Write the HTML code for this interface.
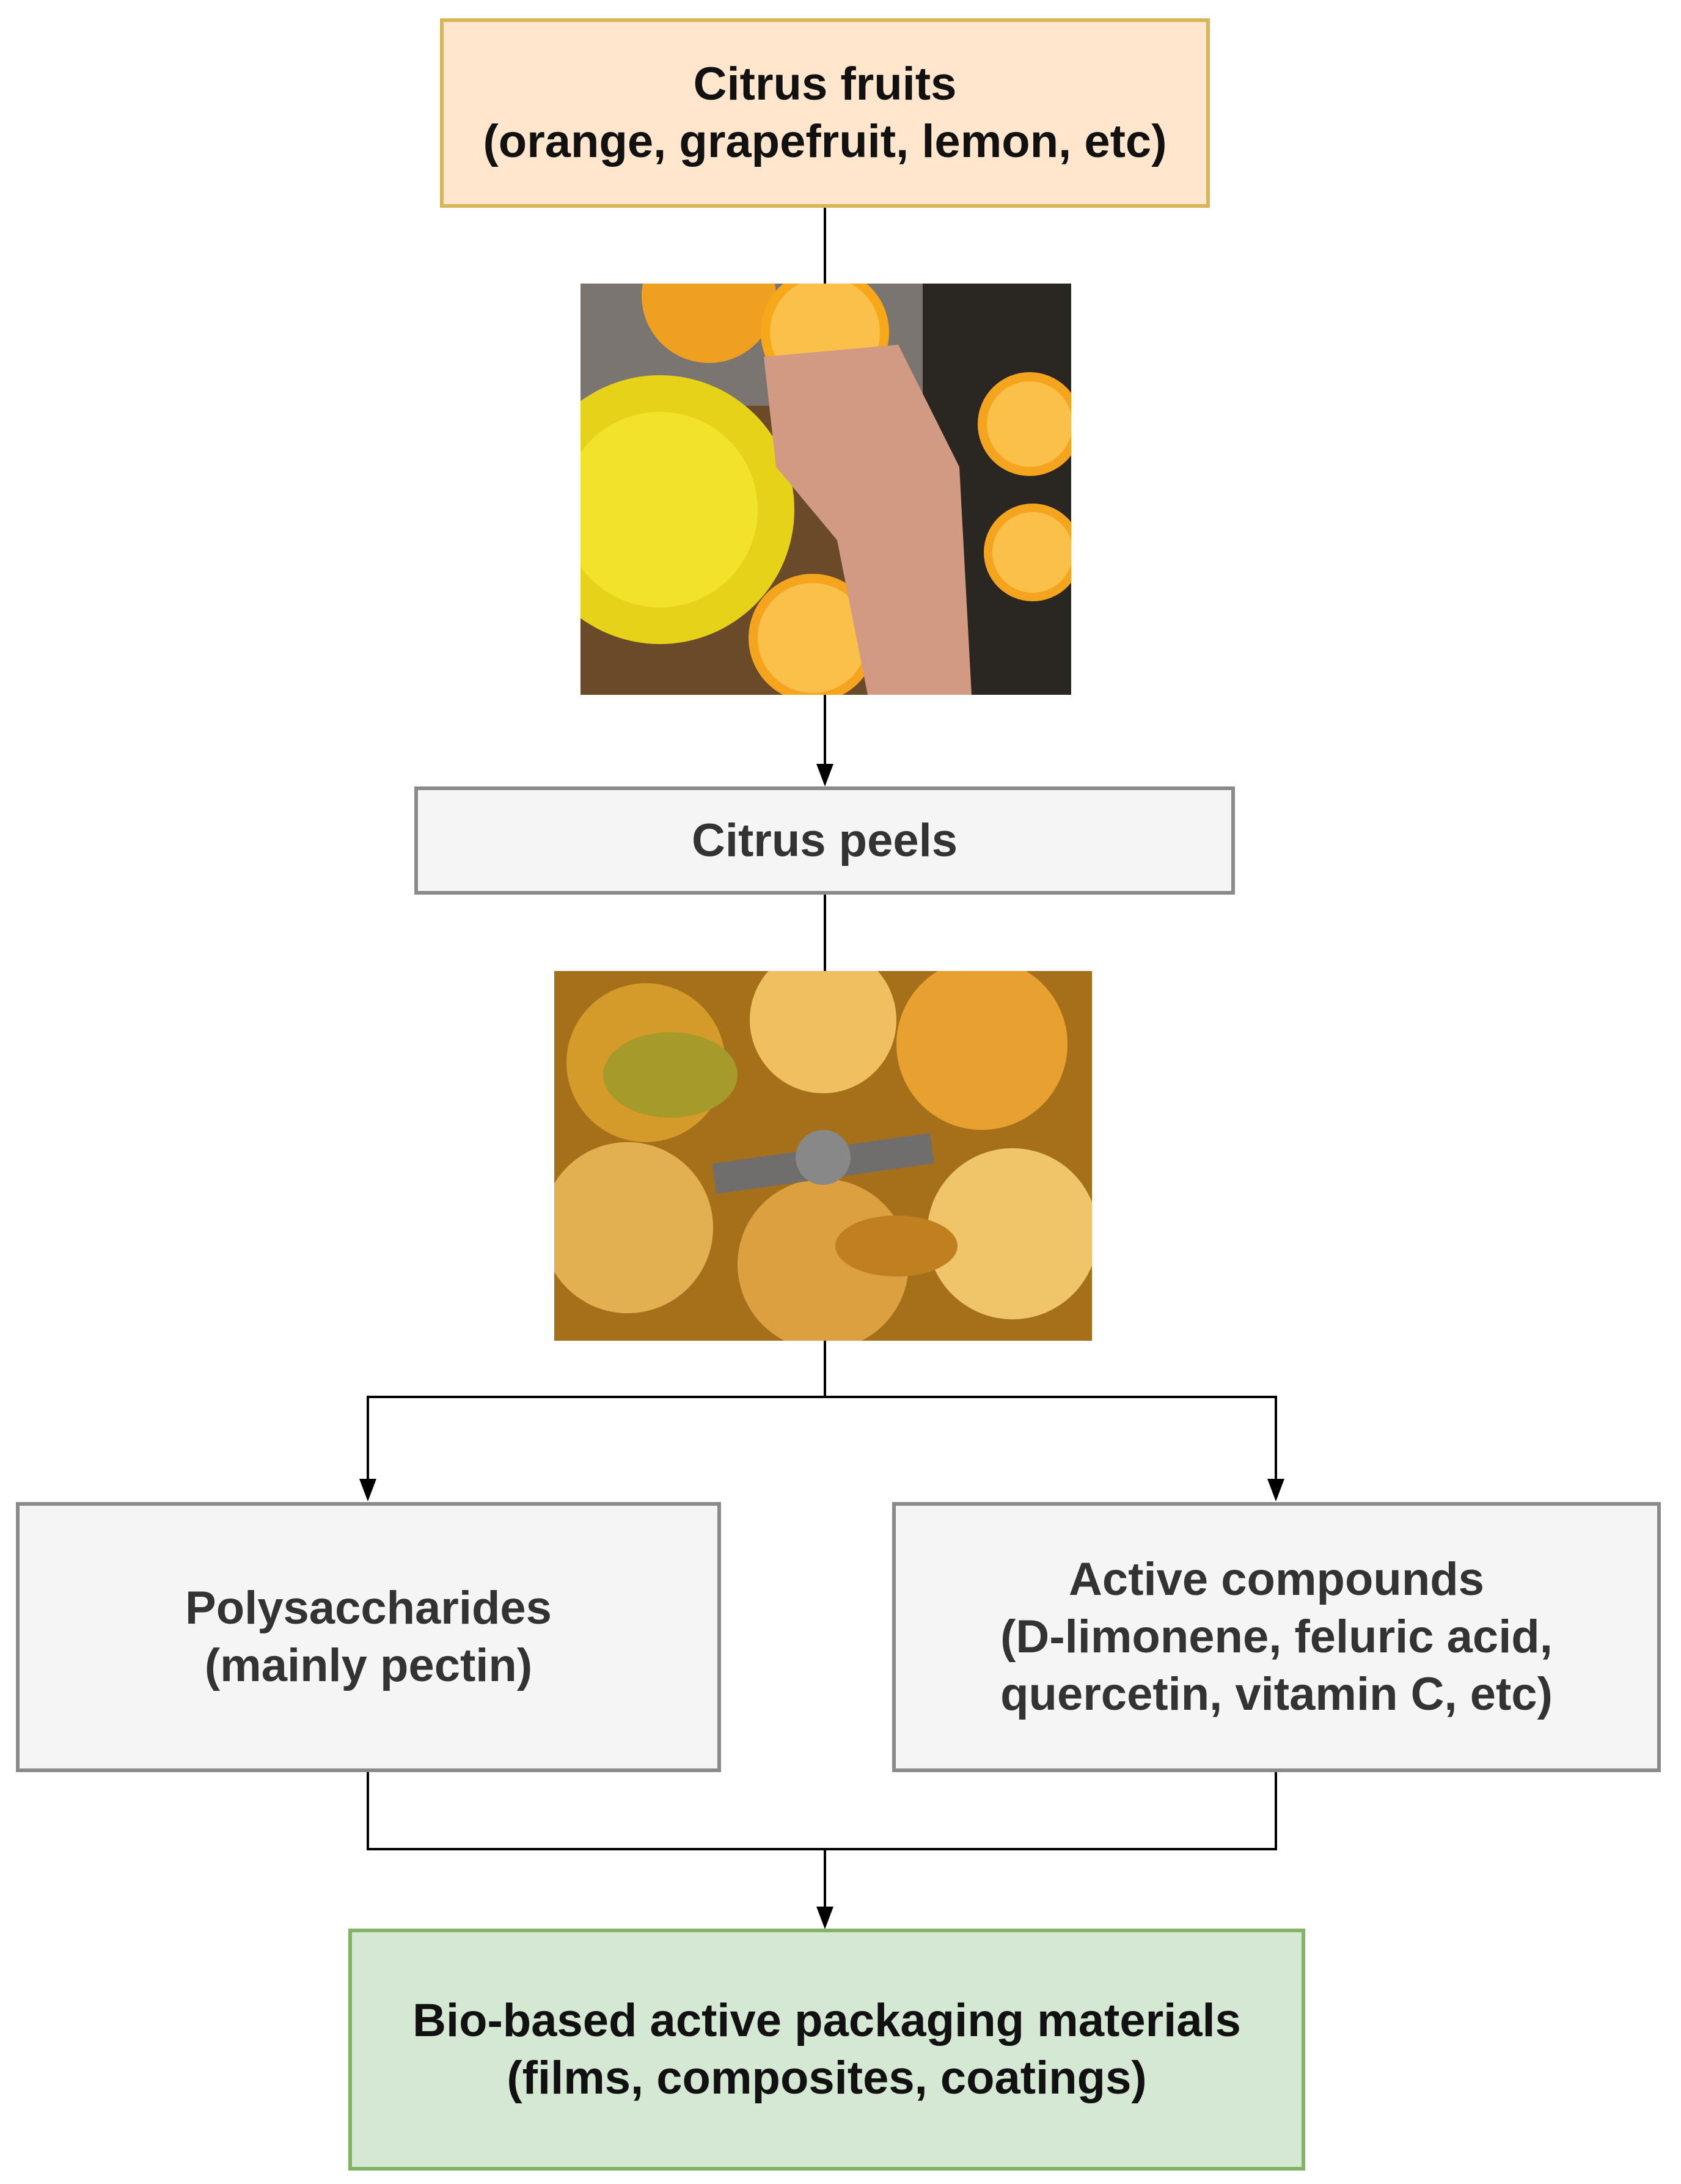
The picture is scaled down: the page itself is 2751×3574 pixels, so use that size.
<!DOCTYPE html>
<html><head><meta charset="utf-8"><style>
body{margin:0;width:2751px;height:3574px;background:#fff;position:relative;overflow:hidden;font-family:"Liberation Sans",Arial,sans-serif;}
.b{position:absolute;box-sizing:border-box;border:6px solid #8a8a8a;background:#f5f5f5;display:flex;align-items:center;justify-content:center;text-align:center;font-weight:bold;font-size:76px;line-height:94px;color:#333;}
.l{position:absolute;background:#000;}
</style></head><body>
<div class="b" style="left:720px;top:30px;width:1260px;height:310px;background:#ffe6cc;border-color:#d6b656;color:#111">Citrus fruits<br>(orange, grapefruit, lemon, etc)</div>

<svg style="position:absolute;left:950px;top:464px" width="803" height="673" viewBox="0 0 803 673">
<rect width="803" height="673" fill="#6b4a2a"/>
<rect x="0" y="0" width="803" height="200" fill="#7a7570"/>
<rect x="560" y="0" width="243" height="673" fill="#2a2622"/>
<circle cx="210" cy="20" r="110" fill="#f0a020"/>
<circle cx="400" cy="80" r="105" fill="#f7a818"/><circle cx="400" cy="80" r="90" fill="#fbc04a"/>
<circle cx="735" cy="230" r="85" fill="#f5a41e"/><circle cx="735" cy="230" r="70" fill="#fbc04a"/>
<circle cx="740" cy="440" r="80" fill="#f5a41e"/><circle cx="740" cy="440" r="66" fill="#fbc04a"/>
<circle cx="380" cy="580" r="105" fill="#f5a41e"/><circle cx="380" cy="580" r="90" fill="#fbc04a"/>
<circle cx="130" cy="370" r="220" fill="#e7d21a"/><circle cx="130" cy="370" r="160" fill="#f2e22a"/>
<path d="M300 120 L520 100 L620 300 L640 673 L470 673 L420 420 L320 300 Z" fill="#d29a82"/>
</svg>

<div class="b" style="left:678px;top:1287px;width:1343px;height:177px">Citrus peels</div>

<svg style="position:absolute;left:907px;top:1589px" width="880" height="605" viewBox="0 0 880 605">
<rect width="880" height="605" fill="#a6701a"/>
<circle cx="150" cy="150" r="130" fill="#d49a2a"/><circle cx="700" cy="120" r="140" fill="#e8a030"/>
<circle cx="440" cy="80" r="120" fill="#f0c060"/><circle cx="120" cy="420" r="140" fill="#e2b050"/>
<circle cx="750" cy="430" r="140" fill="#f0c468"/><circle cx="440" cy="480" r="140" fill="#dca040"/>
<ellipse cx="190" cy="170" rx="110" ry="70" fill="#a69a2a"/>
<ellipse cx="560" cy="450" rx="100" ry="50" fill="#c08020"/>
<rect x="260" y="290" width="360" height="50" fill="#6f6e6c" transform="rotate(-8 440 315)"/>
<circle cx="440" cy="305" r="45" fill="#888"/>
</svg>

<div class="l" style="left:1348px;top:340px;width:4px;height:124px"></div>
<div class="l" style="left:1348px;top:1137px;width:4px;height:130px"></div>
<svg style="position:absolute;left:1330px;top:1250px" width="40" height="40"><path d="M6 0 L34 0 L20 37 Z" fill="#000"/></svg>
<div class="l" style="left:1348px;top:1464px;width:4px;height:125px"></div>
<div class="l" style="left:1348px;top:2194px;width:4px;height:94px"></div>
<div class="l" style="left:600px;top:2284px;width:1490px;height:4px"></div>
<div class="l" style="left:600px;top:2284px;width:4px;height:150px"></div>
<div class="l" style="left:2086px;top:2284px;width:4px;height:150px"></div>
<svg style="position:absolute;left:582px;top:2420px" width="40" height="40"><path d="M6 0 L34 0 L20 37 Z" fill="#000"/></svg>
<svg style="position:absolute;left:2068px;top:2420px" width="40" height="40"><path d="M6 0 L34 0 L20 37 Z" fill="#000"/></svg>

<div class="b" style="left:26px;top:2458px;width:1154px;height:442px">Polysaccharides<br>(mainly pectin)</div>
<div class="b" style="left:1460px;top:2458px;width:1258px;height:442px">Active compounds<br>(D-limonene, feluric acid,<br>quercetin, vitamin C, etc)</div>

<div class="l" style="left:600px;top:2900px;width:4px;height:128px"></div>
<div class="l" style="left:2086px;top:2900px;width:4px;height:128px"></div>
<div class="l" style="left:600px;top:3024px;width:1490px;height:4px"></div>
<div class="l" style="left:1348px;top:3024px;width:4px;height:110px"></div>
<svg style="position:absolute;left:1330px;top:3120px" width="40" height="40"><path d="M6 0 L34 0 L20 37 Z" fill="#000"/></svg>

<div class="b" style="left:570px;top:3156px;width:1566px;height:396px;background:#d5e8d4;border-color:#82b366;color:#111">Bio-based active packaging materials<br>(films, composites, coatings)</div>
</body></html>
